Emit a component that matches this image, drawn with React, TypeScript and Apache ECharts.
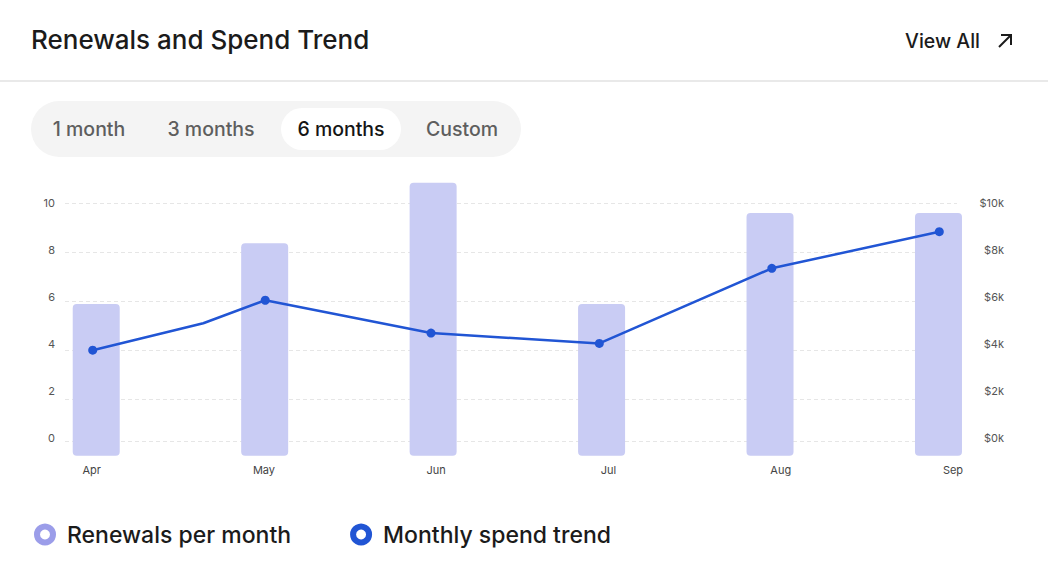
import React, { useEffect, useRef } from 'react';
import * as echarts from 'echarts';

const FONT = 'Inter, "Noto Sans", sans-serif';

// ---- data ----
const months = ['Apr', 'May', 'Jun', 'Jul', 'Aug', 'Sep'];
const renewals = [5, 7, 9, 5, 8, 8];
// spend trend points: position in months since Apr, value in dollars
const spendPosition = [0, 0.653, 1.019, 1.998, 2.992, 4.011, 5];
const spendDollars = [3740, 4890, 5870, 4470, 4030, 7230, 8790];
const spendMarker = [true, false, true, true, true, true, true];
const countTicks = { min: 0, max: 10, interval: 2 };
const spendTicks = { min: 0, max: 10000, interval: 2000 };
const tabs = ['1 month', '3 months', '6 months', 'Custom'];
const activeTab = '6 months';
const seriesNames = ['Renewals per month', 'Monthly spend trend'];

const BAR_COLOR = '#c9ccf4';
const LINE_COLOR = '#2155d4';
const LEGEND_BAR = '#9b9de9';

const tabCenters = [89, 211, 341, 462];

export default function App() {
  const ref = useRef<HTMLDivElement>(null);
  useEffect(() => {
    const chart = echarts.init(ref.current!, null, { renderer: 'svg' });
    const labelStyle = { fontFamily: FONT, fontSize: 11, color: '#555' };
    const option: any = {
      animation: false,
      backgroundColor: '#fff',
      title: {
        text: 'Renewals and Spend Trend',
        left: 31,
        top: 26,
        padding: 0,
        textStyle: { fontFamily: FONT, fontSize: 26, fontWeight: 500, color: '#1b1b1b' },
      },
      graphic: [
        { type: 'rect', shape: { x: 0, y: 80, width: 1048, height: 2 }, style: { fill: '#e9e9e9' } },
        {
          type: 'text', x: 980, y: 41,
          style: { text: 'View All', fontFamily: FONT, fontSize: 19.5, fontWeight: 500, fill: '#1b1b1b', align: 'right', verticalAlign: 'middle' },
        },
        { type: 'polyline', shape: { points: [[999, 47], [1011, 35]] }, style: { stroke: '#1b1b1b', lineWidth: 2, fill: null } },
        { type: 'polyline', shape: { points: [[1001, 35], [1011, 35], [1011, 45]] }, style: { stroke: '#1b1b1b', lineWidth: 2, fill: null } },
        { type: 'rect', shape: { x: 31, y: 101, width: 490, height: 56, r: 28 }, style: { fill: '#f4f4f4' } },
        { type: 'rect', shape: { x: 281, y: 108, width: 120, height: 42, r: 21 }, style: { fill: '#ffffff' } },
        ...tabs.map((t, i) => ({
          type: 'text', x: tabCenters[i], y: 129,
          style: {
            text: t, fontFamily: FONT, fontSize: 19.5, fontWeight: 500,
            fill: t === activeTab ? '#151515' : '#5e5e5e', align: 'center', verticalAlign: 'middle',
          },
        })),
      ],
      legend: {
        left: 34,
        top: 523,
        padding: 0,
        itemWidth: 16,
        itemHeight: 16,
        itemGap: 59,
        selectedMode: false,
        textStyle: { fontFamily: FONT, fontSize: 23, fontWeight: 500, color: '#1b1b1b', padding: [0, 0, 0, 9] },
        data: [
          { name: seriesNames[0], icon: 'circle', itemStyle: { color: '#fff', borderColor: LEGEND_BAR, borderWidth: 6 } },
          { name: seriesNames[1], icon: 'circle', itemStyle: { color: '#fff', borderColor: LINE_COLOR, borderWidth: 6 } },
        ],
      },
      grid: [
        { left: 12, top: 182.7, width: 1010.7, height: 273 },
        { left: 65, top: 203.3, width: 892, height: 237.7 },
        { left: 91.7, top: 203.3, width: 861.3, height: 234.7 },
        { left: 92.7, top: 203.3, width: 846.6, height: 234.7 },
      ],
      xAxis: [
        { gridIndex: 0, type: 'category', data: months, show: false },
        { gridIndex: 1, type: 'value', min: 0, max: 1, show: false },
        {
          gridIndex: 2, type: 'category', data: months, boundaryGap: false,
          axisLine: { show: false }, axisTick: { show: false }, splitLine: { show: false },
          axisLabel: { ...labelStyle, color: '#444', margin: 26 },
        },
        { gridIndex: 3, type: 'value', min: 0, max: months.length - 1, show: false },
      ],
      yAxis: [
        { gridIndex: 0, type: 'value', min: 0, max: 'dataMax', show: false },
        {
          gridIndex: 1, type: 'value', inverse: true, min: 0, max: 4.85, interval: 1,
          axisLine: { show: false }, axisTick: { show: false }, axisLabel: { show: false },
          splitLine: { show: true, lineStyle: { color: '#e6e6e6', width: 1, type: [4, 3] } },
        },
        {
          gridIndex: 2, type: 'value', position: 'left', ...countTicks,
          axisLine: { show: false }, axisTick: { show: false }, splitLine: { show: false },
          axisLabel: { ...labelStyle, align: 'right', margin: 36.7 },
        },
        {
          gridIndex: 2, type: 'value', position: 'right', ...spendTicks,
          axisLine: { show: false }, axisTick: { show: false }, splitLine: { show: false },
          axisLabel: { ...labelStyle, align: 'right', margin: 51, formatter: (v: number) => `$${v / 1000}k` },
        },
        { gridIndex: 3, type: 'value', ...spendTicks, show: false },
      ],
      series: [
        {
          name: seriesNames[0], type: 'bar', xAxisIndex: 0, yAxisIndex: 0,
          data: renewals, barWidth: 47,
          itemStyle: { color: BAR_COLOR, borderRadius: 4 },
        },
        {
          name: seriesNames[1], type: 'line', xAxisIndex: 3, yAxisIndex: 4,
          data: spendPosition.map((x, i) => ({ value: [x, spendDollars[i]], symbolSize: spendMarker[i] ? 9 : 0 })),
          symbol: 'circle',
          itemStyle: { color: LINE_COLOR },
          lineStyle: { color: LINE_COLOR, width: 2.5 },
        },
      ],
    };
    chart.setOption(option);
    return () => chart.dispose();
  }, []);
  return (
    <div
      ref={ref}
      style={{ position: 'fixed', left: 0, top: 0, width: 1048, height: 580, background: '#fff' }}
    />
  );
}
